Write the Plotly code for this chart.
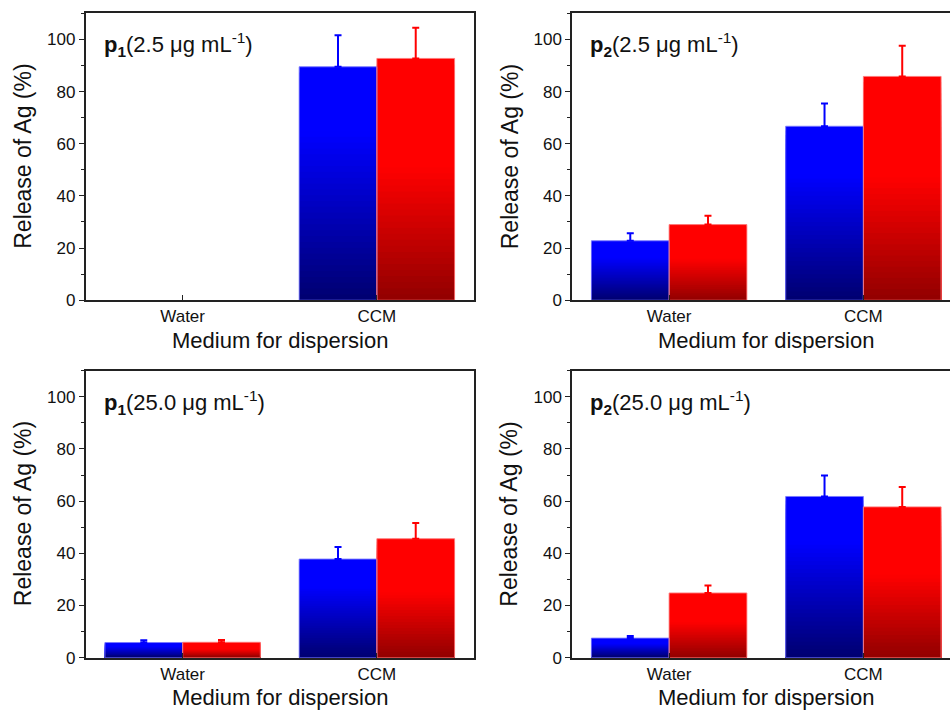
import plotly.graph_objects as go
from plotly.subplots import make_subplots

# ---------------- data ----------------
categories = ["Water", "CCM"]

panel_labels = [
    "<b>p</b><sub><b>1</b></sub>(2.5 μg mL<sup>-1</sup>)",
    "<b>p</b><sub><b>2</b></sub>(2.5 μg mL<sup>-1</sup>)",
    "<b>p</b><sub><b>1</b></sub>(25.0 μg mL<sup>-1</sup>)",
    "<b>p</b><sub><b>2</b></sub>(25.0 μg mL<sup>-1</sup>)",
]

blue_p1_low = [None, 89.5]
blue_err_p1_low = [None, 12.1]
red_p1_low = [None, 92.7]
red_err_p1_low = [None, 11.8]

blue_p2_low = [22.8, 66.7]
blue_err_p2_low = [2.9, 8.7]
red_p2_low = [29.0, 85.8]
red_err_p2_low = [3.4, 11.8]

blue_p1_high = [5.8, 37.8]
blue_err_p1_high = [0.9, 4.6]
red_p1_high = [5.9, 45.6]
red_err_p1_high = [0.9, 6.0]

blue_p2_high = [7.5, 61.8]
blue_err_p2_high = [0.8, 8.0]
red_p2_high = [24.8, 57.8]
red_err_p2_high = [2.9, 7.6]

y_title = "Release of Ag (%)"
x_title = "Medium for dispersion"

# ---------------- layout geometry ----------------
W, H = 950, 715
FONT = "Liberation Sans, Arial, sans-serif"
TXT = "#111111"

left_px = (85.5, 474.0)
right_px = (572.0, 950.0)
full_w = left_px[1] - left_px[0]
top_px = (13.5, 304.5)
bot_px = (376.0, 667.0)


def xdom(p):
    return [max(0.0, p[0] / W), min(1.0, p[1] / W)]


def ydom(p):
    return [max(0.0, 1 - p[1] / H), min(1.0, 1 - p[0] / H)]


panels = [
    (1, 1, blue_p1_low, blue_err_p1_low, red_p1_low, red_err_p1_low, left_px, top_px),
    (1, 2, blue_p2_low, blue_err_p2_low, red_p2_low, red_err_p2_low, right_px, top_px),
    (2, 1, blue_p1_high, blue_err_p1_high, red_p1_high, red_err_p1_high, left_px, bot_px),
    (2, 2, blue_p2_high, blue_err_p2_high, red_p2_high, red_err_p2_high, right_px, bot_px),
]

BLUE_TOP, BLUE_BOT, BLUE_START = (0, 0, 255), (0, 0, 112), 0.72
RED_TOP, RED_BOT, RED_START = (255, 0, 0), (145, 0, 0), 0.55
N_SEG = 40


def grad_color(f, top, bot, start):
    t = min(1.0, f / start)
    c = [round(b + (a - b) * t) for a, b in zip(top, bot)]
    return f"rgb({c[0]},{c[1]},{c[2]})"


def gradient_traces(vals, top, bot, start, group):
    """Overlaid bars of decreasing height give each bar a vertical colour gradient."""
    traces = []
    for k in range(N_SEG, 0, -1):
        f = (k - 0.5) / N_SEG
        ys = [None if v is None else v * k / N_SEG for v in vals]
        col = grad_color(f, top, bot, start)
        traces.append(go.Bar(x=categories, y=ys, offsetgroup=group, showlegend=False,
                             hoverinfo="skip",
                             marker=dict(color=col, line=dict(width=0))))
    return traces


def frame_trace(vals, errs, edge, ecol, group):
    return go.Bar(x=categories, y=vals, offsetgroup=group, showlegend=False,
                  marker=dict(color="rgba(0,0,0,0)", line=dict(color=edge, width=1)),
                  error_y=dict(type="data", array=errs, arrayminus=[0, 0], symmetric=False,
                               color=ecol, thickness=2, width=3.5))


fig = make_subplots(rows=2, cols=2)
annotations = []
for i, (r, c, bv, be, rv, re, xp, yp) in enumerate(panels):
    for t in gradient_traces(bv, BLUE_TOP, BLUE_BOT, BLUE_START, "b"):
        fig.add_trace(t, row=r, col=c)
    for t in gradient_traces(rv, RED_TOP, RED_BOT, RED_START, "r"):
        fig.add_trace(t, row=r, col=c)
    fig.add_trace(frame_trace(bv, be, "rgba(120,120,255,0.9)", "#0000ff", "b"), row=r, col=c)
    fig.add_trace(frame_trace(rv, re, "rgba(255,120,120,0.9)", "#ff0000", "r"), row=r, col=c)

    units = 2.0 / full_w
    xr = [-0.5, -0.5 + (xp[1] - xp[0]) * units]
    is_left = c == 1
    fig.update_xaxes(row=r, col=c, domain=xdom(xp), range=xr, type="category",
                     categoryorder="array", categoryarray=categories,
                     showline=True, linecolor="#222", linewidth=1.5, mirror=True,
                     ticks="inside", ticklen=5, tickwidth=1.2, tickcolor="#222",
                     showgrid=False, zeroline=False,
                     tickfont=dict(family=FONT, size=17, color=TXT))
    fig.update_yaxes(row=r, col=c, domain=ydom(yp), range=[0, 110],
                     tick0=0, dtick=20, ticks="outside", ticklen=5, tickwidth=1.2,
                     tickcolor="#222",
                     minor=dict(dtick=10, ticks="outside", ticklen=3, tickwidth=1.2,
                                tickcolor="#222", showgrid=False),
                     showline=True, linecolor="#222", linewidth=1.5,
                     mirror=True if is_left else False,
                     showgrid=False, zeroline=False,
                     tickfont=dict(family=FONT, size=17, color=TXT))

    # panel label
    annotations.append(dict(text=panel_labels[i], xref="paper", yref="paper",
                            x=(xp[0] + 16) / W, y=1 - (yp[0] + 0.11 * 291) / H,
                            xanchor="left", yanchor="middle", showarrow=False,
                            font=dict(family=FONT, size=22, color=TXT)))
    # y title
    annotations.append(dict(text=y_title, xref="paper", yref="paper",
                            x=(xp[0] - 62.5) / W, y=1 - (yp[0] + yp[1]) / 2 / H,
                            xanchor="center", yanchor="middle", textangle=-90,
                            showarrow=False, font=dict(family=FONT, size=23, color=TXT)))
    # x title
    annotations.append(dict(text=x_title, xref="paper", yref="paper",
                            x=(xp[0] + full_w / 2) / W, y=1 - (yp[1] + 40.5) / H,
                            xanchor="center", yanchor="middle",
                            showarrow=False, font=dict(family=FONT, size=22, color=TXT)))

fig.update_layout(width=W, height=H, margin=dict(l=0, r=0, t=0, b=0),
                  barmode="group", bargap=0.2, bargroupgap=0,
                  plot_bgcolor="white", paper_bgcolor="white",
                  annotations=annotations, showlegend=False)

fig.write_html("out.html", config={"displayModeBar": False},
               post_script="document.body.style.margin='0';"
                           "document.body.style.overflow='hidden';")
